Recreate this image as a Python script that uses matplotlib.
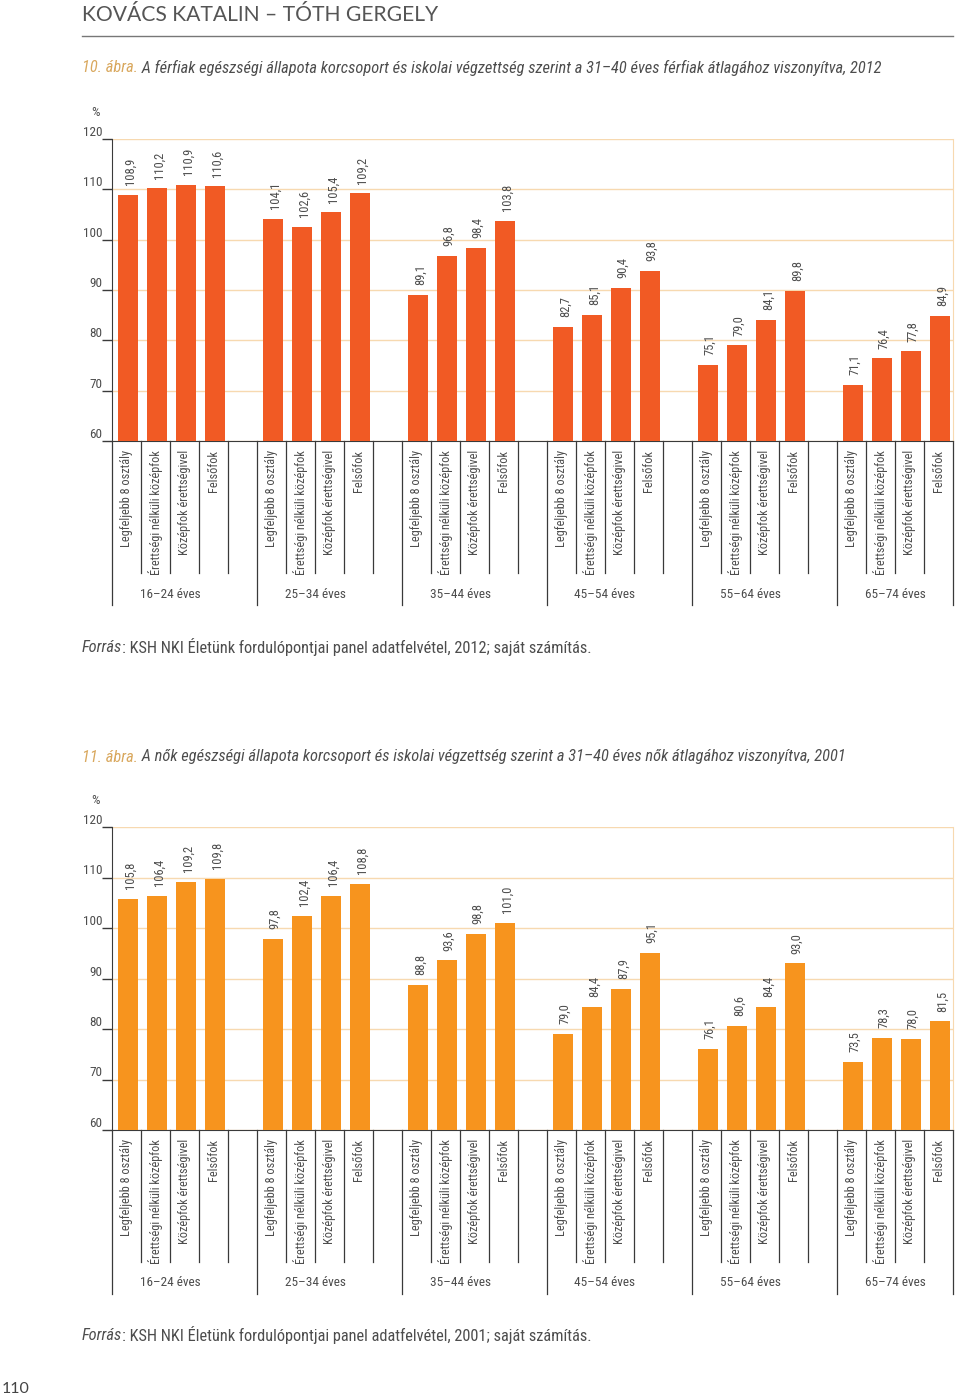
import numpy as np
import matplotlib.pyplot as plt
from matplotlib import font_manager

# pick a narrow sans if one is installed
names = {f.name for f in font_manager.fontManager.ttflist}
family = next((n for n in ['Roboto Condensed', 'Liberation Sans Narrow', 'Open Sans Condensed',
                           'Roboto', 'Liberation Sans'] if n in names), 'DejaVu Sans')
wide = next((n for n in ['Lato', 'Open Sans', 'Roboto'] if n in names), 'DejaVu Sans')
plt.rcParams['font.family'] = [family, 'DejaVu Sans']

# data
age_groups = ['16–24 éves', '25–34 éves', '35–44 éves', '45–54 éves', '55–64 éves', '65–74 éves']
education = ['Legfeljebb 8 osztály', 'Érettségi nélküli középfok', 'Középfok érettségivel', 'Felsőfok']

men_2012 = [108.9, 110.2, 110.9, 110.6,
            104.1, 102.6, 105.4, 109.2,
            89.1, 96.8, 98.4, 103.8,
            82.7, 85.1, 90.4, 93.8,
            75.1, 79.0, 84.1, 89.8,
            71.1, 76.4, 77.8, 84.9]
women_2001 = [105.8, 106.4, 109.2, 109.8,
              97.8, 102.4, 106.4, 108.8,
              88.8, 93.6, 98.8, 101.0,
              79.0, 84.4, 87.9, 95.1,
              76.1, 80.6, 84.4, 93.0,
              73.5, 78.3, 78.0, 81.5]

title1 = ('10. ábra.', 'A férfiak egészségi állapota korcsoport és iskolai végzettség szerint a 31–40 éves férfiak átlagához viszonyítva, 2012')
title2 = ('11. ábra.', 'A nők egészségi állapota korcsoport és iskolai végzettség szerint a 31–40 éves nők átlagához viszonyítva, 2001')

W, H = 960, 1400
TEXT = '#4d4d4d'
DARK = '#3a3a3a'
GRID = '#f7d9b0'
GOLD = '#d9a85e'

fig = plt.figure(figsize=(W / 100, H / 100), dpi=100)
renderer = fig.canvas.get_renderer()

# overlay axes in pixel coordinates (origin top-left) for the page texts
tax = fig.add_axes([0, 0, 1, 1])
tax.set_xlim(0, W)
tax.set_ylim(H, 0)
tax.axis('off')


def size_for(s, width, **kw):
    # font size that makes string s about `width` pixels wide
    t = tax.text(0, 0, s, fontsize=10, **kw)
    w = t.get_window_extent(renderer).width
    t.remove()
    return 10 * width / w


s_val = 9
s_cat = min(9, size_for('Érettségi nélküli középfok', 124))
s_grp = 9.5
s_tick = 9.5


def draw_chart(top, bottom, values, color):
    h = bottom - top
    ax = fig.add_axes([112 / W, 1 - bottom / H, (953 - 112) / W, h / H])
    x = [g * 5 + k + 0.55 for g in range(len(age_groups)) for k in range(len(education))]
    ax.bar(x, values, width=0.69, color=color, zorder=3)
    for xi, v in zip(x, values):
        ax.annotate(f'{v:.1f}'.replace('.', ','), (xi, v), xytext=(1.5, 7),
                    textcoords='offset points', rotation=90, ha='center', va='bottom',
                    fontsize=s_val, color=TEXT)

    ax.set_xlim(0, 29)
    ax.set_ylim(60, 120)
    ax.set_yticks(range(60, 121, 10))
    ax.set_xticks([])
    ax.yaxis.grid(True, color=GRID, lw=1)
    ax.set_axisbelow(True)
    ax.tick_params(axis='y', length=7, width=1, color=DARK, labelcolor=TEXT,
                   labelsize=s_tick, pad=0)
    for lab in ax.get_yticklabels():
        lab.set_verticalalignment('bottom')
    ax.spines['top'].set_visible(False)
    ax.spines['right'].set_color(GRID)
    ax.spines['left'].set_color(DARK)
    ax.spines['bottom'].set_color(DARK)

    trans = ax.get_xaxis_transform()
    for b in range(30):
        depth = 164 if (b % 5 == 0 or b == 29) else 132
        ax.plot([b, b], [0, -depth / h], transform=trans, clip_on=False, color=DARK, lw=0.9)
    for g, grp in enumerate(age_groups):
        for k, lab in enumerate(education):
            ax.text(g * 5 + k + 0.5, -9 / h, lab, rotation=90, ha='center', va='top',
                    transform=trans, fontsize=s_cat, color=TEXT)
        ax.text(g * 5 + 2, -153 / h, grp, ha='center', va='center', transform=trans,
                fontsize=s_grp, color=TEXT)
    tax.text(95, top - 26, '%', ha='center', va='center', fontsize=s_tick, color=TEXT)
    return ax


def title_line(y, title, right):
    num, rest = title
    fs = size_for(num + ' ' + rest, right - 82, style='italic')
    t = tax.text(82, y, num, color=GOLD, fontsize=fs, style='italic', va='center')
    tax.annotate(' ' + rest, xy=(1, 0.5), xycoords=t, va='center', ha='left', fontsize=fs,
                 style='italic', color=TEXT, annotation_clip=False)


def source_line(y, year):
    rest = f': KSH NKI Életünk fordulópontjai panel adatfelvétel, {year}; saját számítás.'
    fs = size_for('Forrás' + rest, 512)
    t = tax.text(82, y, 'Forrás', color=TEXT, fontsize=fs, style='italic', va='center')
    tax.annotate(rest, xy=(1, 0.5), xycoords=t, va='center', ha='left', fontsize=fs,
                 color=TEXT, annotation_clip=False)


header = 'KOVÁCS KATALIN – TÓTH GERGELY'
tax.text(82, 15, header, fontsize=size_for(header, 355, family=wide),
         family=wide, color='#555555', va='center')
tax.plot([82, 953], [36, 36], color='#777777', lw=1)

# chart 1
title_line(68, title1, 880)
draw_chart(139, 441, men_2012, '#f15a24')
source_line(647, 2012)

# chart 2
title_line(757, title2, 843)
draw_chart(827, 1130, women_2001, '#f7941e')
source_line(1335, 2001)

tax.text(2, 1389, '110', fontsize=size_for('110', 28, family=wide),
         family=wide, color='#444444', va='center')

fig.savefig('out.png', dpi=100)
